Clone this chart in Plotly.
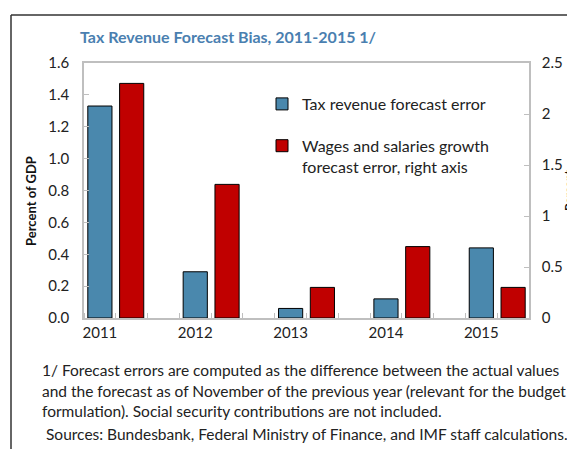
import plotly.graph_objects as go

years = ["2011", "2012", "2013", "2014", "2015"]
tax_error = [1.33, 0.29, 0.06, 0.12, 0.44]          # percent of GDP, left axis
wages_error = [2.30, 1.31, 0.30, 0.70, 0.30]        # percent, right axis
left_ticks = [0.0, 0.2, 0.4, 0.6, 0.8, 1.0, 1.2, 1.4, 1.6]
right_ticks = [0, 0.5, 1, 1.5, 2, 2.5]
right_tick_text = ["0", "0.5", "1", "1.5", "2", "2.5"]

FONT = "Lato"
BLUE = "#4a88ad"
RED = "#c00000"
GRID = "#bfbfbf"

# each year occupies 3 slots: tax bar, wages bar, gap
blue_x = [3 * i for i in range(len(years))]
red_x = [3 * i + 1 for i in range(len(years))]

# page body has an 8px margin; figure sized to fit the 575x449 window
OFF = 8
W, H = 575 - OFF, 449 - OFF
# plot area in window pixels: x 84..529, y 63..318
L, R, T, B = 84 - OFF, W - (529 - OFF), 63 - OFF, H - (318 - OFF)
pw, ph = W - L - R, H - T - B

def px(x):  # window x pixel -> paper
    return (x - OFF - L) / pw

def py(y):  # window y pixel -> paper
    return (H - B - (y - OFF)) / ph

fig = go.Figure()
fig.add_trace(go.Bar(
    x=blue_x, y=tax_error, name="Tax revenue forecast error",
    marker=dict(color=BLUE, line=dict(color="black", width=1)),
    width=0.76, yaxis="y", legendgroup="a",
))
fig.add_trace(go.Bar(
    x=red_x, y=wages_error, name="Wages and salaries growth<br>forecast error, right axis",
    marker=dict(color=RED, line=dict(color="black", width=1)),
    width=0.76, yaxis="y2", legendgroup="b",
))

fig.update_layout(
    width=W, height=H,
    margin=dict(l=L, r=R, t=T, b=B),
    paper_bgcolor="white", plot_bgcolor="white",
    font=dict(family=FONT, size=15, color="#222222"),
    barmode="overlay",
    showlegend=True,
    legend=dict(
        x=px(262), y=py(87), xanchor="left", yanchor="top",
        font=dict(family=FONT, size=16, color="#222222"),
        valign="top", traceorder="grouped", tracegroupgap=18,
        bgcolor="rgba(0,0,0,0)", itemwidth=30,
    ),
    xaxis=dict(
        range=[-0.5, 13.5], tickvals=blue_x, ticktext=years,
        ticks="", showgrid=False, zeroline=False,
        showline=True, linecolor=GRID, linewidth=1.5, mirror=True,
        tickfont=dict(size=15),
        minor=dict(tick0=0.5, dtick=1, ticks="inside", ticklen=5,
                   tickcolor=GRID, showgrid=False),
    ),
    yaxis=dict(
        range=[0, 1.6], tickvals=left_ticks, tickformat=".1f",
        ticks="inside", ticklen=5, tickcolor=GRID,
        showgrid=False, zeroline=False,
        showline=True, linecolor=GRID, linewidth=1.5,
        ticklabelstandoff=10, tickfont=dict(size=15),
    ),
    yaxis2=dict(
        range=[0, 2.5], tickvals=right_ticks, ticktext=right_tick_text,
        overlaying="y", side="right",
        ticks="inside", ticklen=5, tickcolor=GRID,
        showgrid=False, zeroline=False,
        showline=True, linecolor=GRID, linewidth=1.5,
        ticklabelstandoff=8, tickfont=dict(size=15),
    ),
)

annotations = [
    dict(text="<b>Tax Revenue Forecast Bias, 2011-2015 1/</b>",
         x=px(78), y=py(37), xanchor="left", yanchor="middle",
         font=dict(family=FONT, size=16, color="#4a7fb0")),
    dict(text="<b>Percent of GDP</b>", textangle=-90,
         x=px(31), y=py(201), xanchor="center", yanchor="middle",
         font=dict(family=FONT, size=13, color="#111111")),
    dict(text="<b>Percent</b>", textangle=-90,
         x=px(568), y=py(190), xanchor="center", yanchor="middle",
         font=dict(family=FONT, size=12, color="#111111")),
    dict(text="1/ Forecast errors are computed as the difference between the actual values",
         x=px(40), y=py(370), xanchor="left", yanchor="middle",
         font=dict(family=FONT, size=15.5, color="#222222")),
    dict(text="and the forecast as of November of the previous year (relevant for the budget",
         x=px(40), y=py(391), xanchor="left", yanchor="middle",
         font=dict(family=FONT, size=15.5, color="#222222")),
    dict(text="formulation). Social security contributions are not included.",
         x=px(40), y=py(411), xanchor="left", yanchor="middle",
         font=dict(family=FONT, size=15.5, color="#222222")),
    dict(text="Sources: Bundesbank, Federal Ministry of Finance, and IMF staff calculations.",
         x=px(44), y=py(434), xanchor="left", yanchor="middle",
         font=dict(family=FONT, size=15.5, color="#222222")),
]
for a in annotations:
    a.update(xref="paper", yref="paper", showarrow=False)
fig.update_layout(annotations=annotations)

# outer frame (top and left edges)
fig.add_shape(type="line", xref="paper", yref="paper",
              x0=px(11), x1=px(580), y0=py(15), y1=py(15),
              line=dict(color="#333333", width=1.5))
fig.add_shape(type="line", xref="paper", yref="paper",
              x0=px(11), x1=px(11), y0=py(15), y1=py(455),
              line=dict(color="#333333", width=1.5))

fig.write_html("out.html")
